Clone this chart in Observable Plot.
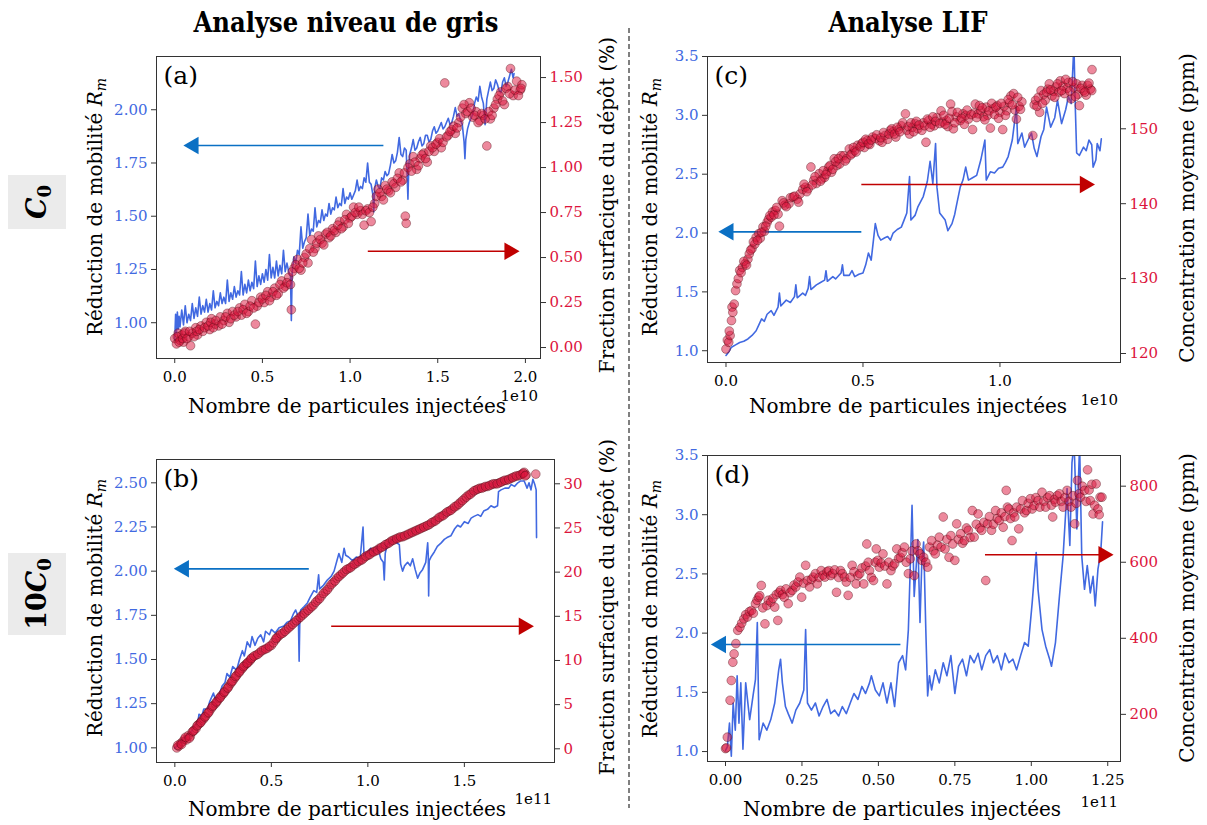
<!DOCTYPE html>
<html><head><meta charset="utf-8">
<script src="https://cdn.jsdelivr.net/npm/d3@7"></script>
<script src="https://cdn.jsdelivr.net/npm/@observablehq/plot@0.6"></script>
<style>
body{margin:0;background:#fff;}
#page{position:relative;width:1207px;height:825px;overflow:hidden;font-family:"DejaVu Serif",serif;background:#fff;}
#page svg{position:absolute;}
</style></head><body><div id="page"></div>
<script>
// ---------- tick values ----------
const aXTicks=[0,0.5,1,1.5,2], aYLTicks=[1,1.25,1.5,1.75,2], aYRTicks=[0,0.25,0.5,0.75,1,1.25,1.5];
const bXTicks=[0,0.5,1,1.5], bYLTicks=[1,1.25,1.5,1.75,2,2.25,2.5], bYRTicks=[0,5,10,15,20,25,30];
const cXTicks=[0,0.5,1], cYLTicks=[1,1.5,2,2.5,3,3.5], cYRTicks=[120,130,140,150];
const dXTicks=[0,0.25,0.5,0.75,1,1.25], dYLTicks=[1,1.5,2,2.5,3,3.5], dYRTicks=[200,400,600,800];

// ---------- (a) grey level, C0 ----------
const aLine=[[0,0.92],[0.005,1.04],[0.01,0.95],[0.015,1.05],[0.02,0.97],[0.025,1.03],[0.03,0.98],[0.04,1.06],[0.05,0.99],[0.06,1.08],[0.07,1.00],[0.08,1.04],[0.09,1.01],[0.10,1.09],[0.11,1.02],[0.12,1.07],[0.13,1.03],[0.14,1.12],[0.15,1.04],[0.16,1.08],[0.17,1.05],[0.18,1.11],[0.19,1.05],[0.20,1.09],[0.21,1.06],[0.22,1.15],[0.23,1.07],[0.24,1.10],[0.25,1.08],[0.26,1.14],[0.27,1.09],[0.28,1.12],[0.29,1.09],[0.30,1.20],[0.31,1.10],[0.32,1.14],[0.33,1.11],[0.34,1.17],[0.35,1.12],[0.36,1.15],[0.37,1.13],[0.38,1.24],[0.39,1.13],[0.40,1.18],[0.41,1.14],[0.42,1.20],[0.43,1.15],[0.44,1.19],[0.45,1.16],[0.46,1.29],[0.47,1.17],[0.48,1.22],[0.49,1.18],[0.50,1.23],[0.51,1.19],[0.52,1.25],[0.53,1.20],[0.54,1.32],[0.55,1.21],[0.56,1.26],[0.57,1.21],[0.58,1.29],[0.59,1.22],[0.60,1.27],[0.61,1.23],[0.62,1.34],[0.63,1.24],[0.64,1.28],[0.65,1.24],[0.66,1.22],[0.665,1.01],[0.67,1.24],[0.68,1.31],[0.69,1.28],[0.70,1.34],[0.71,1.32],[0.72,1.45],[0.73,1.35],[0.74,1.38],[0.75,1.40],[0.76,1.51],[0.77,1.41],[0.78,1.44],[0.79,1.43],[0.80,1.54],[0.81,1.45],[0.82,1.48],[0.83,1.47],[0.84,1.53],[0.85,1.48],[0.86,1.51],[0.87,1.50],[0.88,1.56],[0.89,1.51],[0.90,1.54],[0.91,1.53],[0.92,1.59],[0.93,1.54],[0.94,1.56],[0.95,1.55],[0.96,1.63],[0.97,1.56],[0.98,1.59],[0.99,1.58],[1.00,1.61],[1.01,1.58],[1.02,1.60],[1.03,1.62],[1.04,1.67],[1.05,1.62],[1.06,1.64],[1.07,1.63],[1.08,1.68],[1.09,1.66],[1.10,1.75],[1.11,1.66],[1.12,1.65],[1.13,1.60],[1.135,1.52],[1.14,1.63],[1.15,1.67],[1.16,1.64],[1.17,1.63],[1.18,1.68],[1.19,1.67],[1.20,1.71],[1.21,1.69],[1.22,1.70],[1.23,1.74],[1.24,1.79],[1.25,1.75],[1.26,1.76],[1.27,1.80],[1.28,1.87],[1.29,1.79],[1.30,1.78],[1.31,1.82],[1.32,1.81],[1.325,1.70],[1.33,1.58],[1.335,1.74],[1.34,1.79],[1.35,1.82],[1.36,1.86],[1.37,1.81],[1.38,1.82],[1.39,1.85],[1.40,1.87],[1.41,1.83],[1.42,1.84],[1.43,1.88],[1.44,1.88],[1.45,1.85],[1.46,1.86],[1.47,1.90],[1.48,1.92],[1.49,1.89],[1.50,1.90],[1.51,1.92],[1.52,1.94],[1.53,1.91],[1.54,1.92],[1.55,1.94],[1.56,1.96],[1.57,1.93],[1.58,1.94],[1.59,1.97],[1.60,2.01],[1.61,1.97],[1.62,1.98],[1.63,1.95],[1.64,1.93],[1.65,1.85],[1.655,1.77],[1.66,1.86],[1.67,1.91],[1.68,1.94],[1.69,1.96],[1.70,1.98],[1.71,2.03],[1.72,2.06],[1.73,2.04],[1.74,2.11],[1.75,2.06],[1.76,2.03],[1.77,1.93],[1.78,2.05],[1.79,2.09],[1.80,2.13],[1.81,2.09],[1.82,2.10],[1.83,2.14],[1.84,2.12],[1.85,2.09],[1.86,2.08],[1.87,2.13],[1.88,2.15],[1.89,2.11],[1.90,2.13],[1.91,2.16],[1.92,2.19],[1.93,2.15],[1.935,2.17]];
const aDots=[[0,0.05],[0.01,0.02],[0.02,0.08],[0.03,0.04],[0.04,0.07],[0.05,0.03],[0.06,0.09],[0.08,0.06],[0.09,0.01],[0.10,0.08],[0.12,0.11],[0.13,0.07],[0.15,0.12],[0.16,0.09],[0.18,0.14],[0.20,0.10],[0.21,0.16],[0.23,0.13],[0.25,0.12],[0.26,0.17],[0.28,0.15],[0.30,0.19],[0.31,0.14],[0.33,0.20],[0.35,0.17],[0.37,0.22],[0.38,0.18],[0.40,0.24],[0.42,0.20],[0.44,0.26],[0.46,0.13],[0.47,0.23],[0.49,0.28],[0.51,0.25],[0.53,0.31],[0.55,0.28],[0.57,0.33],[0.59,0.30],[0.61,0.37],[0.63,0.34],[0.65,0.39],[0.665,0.21],[0.68,0.44],[0.70,0.49],[0.72,0.43],[0.74,0.50],[0.76,0.47],[0.78,0.60],[0.80,0.55],[0.82,0.62],[0.84,0.58],[0.86,0.63],[0.88,0.61],[0.90,0.66],[0.92,0.64],[0.94,0.70],[0.96,0.67],[0.98,0.74],[1.00,0.72],[1.02,0.78],[1.04,0.74],[1.06,0.76],[1.08,0.68],[1.10,0.77],[1.12,0.70],[1.14,0.80],[1.16,0.88],[1.18,0.84],[1.20,0.90],[1.22,0.87],[1.24,0.92],[1.26,0.89],[1.28,0.97],[1.30,0.93],[1.315,0.73],[1.32,0.69],[1.34,1.02],[1.36,1.06],[1.38,0.99],[1.40,1.05],[1.42,1.08],[1.44,1.03],[1.46,1.12],[1.48,1.09],[1.50,1.14],[1.52,1.11],[1.54,1.47],[1.56,1.18],[1.58,1.21],[1.60,1.19],[1.62,1.25],[1.64,1.33],[1.66,1.30],[1.68,1.36],[1.70,1.28],[1.72,1.31],[1.74,1.26],[1.76,1.29],[1.78,1.12],[1.80,1.27],[1.82,1.33],[1.84,1.38],[1.86,1.42],[1.88,1.35],[1.90,1.45],[1.915,1.55],[1.93,1.40],[1.95,1.48],[1.97,1.43],[1.98,1.46]];
const aDotsMore=[[0.015,0.06],[0.025,0.03],[0.045,0.05],[0.055,0.08],[0.07,0.05],[0.085,0.09],[0.11,0.06],[0.125,0.09],[0.14,0.10],[0.17,0.11],[0.19,0.12],[0.205,0.14],[0.22,0.11],[0.235,0.15],[0.27,0.13],[0.29,0.17],[0.32,0.16],[0.34,0.18],[0.36,0.20],[0.39,0.21],[0.41,0.19],[0.43,0.23],[0.45,0.22],[0.48,0.25],[0.50,0.27],[0.52,0.29],[0.54,0.26],[0.56,0.31],[0.58,0.29],[0.60,0.35],[0.62,0.33],[0.64,0.36],[0.66,0.35],[0.67,0.42],[0.69,0.46],[0.71,0.44],[0.73,0.47],[0.75,0.52],[0.77,0.55],[0.79,0.53],[0.81,0.58],[0.83,0.60],[0.85,0.57],[0.87,0.64],[0.89,0.62],[0.91,0.65],[0.93,0.68],[0.95,0.66],[0.97,0.71],[0.99,0.69],[1.01,0.73],[1.03,0.75],[1.05,0.78],[1.07,0.74],[1.09,0.76],[1.11,0.75],[1.13,0.78],[1.15,0.84],[1.17,0.86],[1.19,0.82],[1.21,0.88],[1.23,0.86],[1.25,0.91],[1.27,0.94],[1.29,0.92],[1.31,0.97],[1.33,1.00],[1.35,0.98],[1.37,1.03],[1.39,1.01],[1.41,1.07],[1.43,1.05],[1.45,1.09],[1.47,1.11],[1.49,1.13],[1.51,1.16],[1.53,1.14],[1.55,1.17],[1.57,1.20],[1.59,1.23],[1.61,1.22],[1.63,1.28],[1.65,1.35],[1.67,1.31],[1.69,1.33],[1.71,1.29],[1.73,1.25],[1.75,1.30],[1.77,1.27],[1.79,1.31],[1.81,1.29],[1.83,1.35],[1.85,1.40],[1.87,1.37],[1.89,1.44],[1.91,1.41],[1.94,1.43],[1.96,1.40],[1.975,1.44]];
const aArrows={blue:{x1:1.19,x2:0.107,y:1.832}, red:{x1:1.101,x2:1.909,y:0.535}};

// ---------- (b) grey level, 10 C0 ----------
const bLine=[[0,1.00],[0.03,1.03],[0.06,1.07],[0.08,1.08],[0.10,1.12],[0.12,1.15],[0.125,1.19],[0.14,1.18],[0.15,1.22],[0.17,1.22],[0.18,1.26],[0.20,1.31],[0.21,1.27],[0.23,1.30],[0.245,1.35],[0.26,1.37],[0.27,1.42],[0.285,1.40],[0.30,1.46],[0.32,1.44],[0.335,1.50],[0.35,1.55],[0.36,1.52],[0.375,1.60],[0.39,1.57],[0.40,1.63],[0.415,1.58],[0.43,1.62],[0.445,1.64],[0.46,1.60],[0.47,1.66],[0.49,1.64],[0.50,1.67],[0.52,1.65],[0.54,1.68],[0.565,1.69],[0.58,1.71],[0.60,1.72],[0.615,1.76],[0.626,1.78],[0.64,1.74],[0.644,1.49],[0.648,1.75],[0.652,1.78],[0.67,1.80],[0.687,1.82],[0.70,1.85],[0.72,1.89],[0.735,1.88],[0.745,1.98],[0.75,1.90],[0.77,1.92],[0.79,1.95],[0.81,1.97],[0.825,2.00],[0.84,2.06],[0.85,2.10],[0.865,2.05],[0.877,2.13],[0.885,2.09],[0.90,2.08],[0.92,2.06],[0.94,2.08],[0.96,2.07],[0.975,2.25],[0.98,2.09],[1.00,2.11],[1.015,2.13],[1.03,2.11],[1.05,2.14],[1.067,2.07],[1.08,2.05],[1.085,1.95],[1.09,2.10],[1.10,2.15],[1.12,2.17],[1.137,2.19],[1.15,2.16],[1.163,2.15],[1.17,2.04],[1.18,2.00],[1.19,2.03],[1.206,2.05],[1.22,2.03],[1.232,2.07],[1.245,2.01],[1.258,1.96],[1.27,1.99],[1.284,2.01],[1.30,2.05],[1.31,2.16],[1.313,2.09],[1.315,1.86],[1.318,2.06],[1.327,2.08],[1.345,2.11],[1.36,2.14],[1.38,2.16],[1.396,2.18],[1.41,2.19],[1.43,2.20],[1.45,2.24],[1.465,2.26],[1.48,2.25],[1.50,2.28],[1.52,2.27],[1.535,2.30],[1.55,2.31],[1.57,2.32],[1.585,2.31],[1.60,2.34],[1.62,2.35],[1.638,2.37],[1.655,2.36],[1.672,2.37],[1.677,2.45],[1.69,2.46],[1.71,2.47],[1.73,2.47],[1.742,2.49],[1.76,2.48],[1.777,2.50],[1.79,2.51],[1.81,2.51],[1.825,2.47],[1.835,2.50],[1.845,2.46],[1.855,2.52],[1.865,2.49],[1.872,2.46],[1.874,2.19]];
const bDots=[[0.01,0.1],[0.02,0.3],[0.03,0.6],[0.04,0.8],[0.05,1.1],[0.06,1.0],[0.07,1.5],[0.08,1.4],[0.09,1.9],[0.10,2.1],[0.11,2.3],[0.12,2.7],[0.13,2.9],[0.14,3.2],[0.15,3.4],[0.16,3.7],[0.17,4.0],[0.18,4.3],[0.19,4.6],[0.20,4.9],[0.21,5.1],[0.22,5.4],[0.23,5.7],[0.24,6.0],[0.25,6.2],[0.26,6.5],[0.27,6.8],[0.28,7.1],[0.29,7.4],[0.30,7.7],[0.31,8.0],[0.32,8.3],[0.33,8.6],[0.34,8.9],[0.35,9.1],[0.36,9.4],[0.37,9.6],[0.38,9.8],[0.39,10.0],[0.40,10.3],[0.42,10.6],[0.44,10.9],[0.46,11.2],[0.48,11.4],[0.50,11.7],[0.52,12.3],[0.53,12.6],[0.54,12.8],[0.56,13.1],[0.58,13.5],[0.60,13.9],[0.62,14.3],[0.64,14.7],[0.66,15.1],[0.68,15.5],[0.70,15.9],[0.72,16.3],[0.74,16.8],[0.76,17.3],[0.78,17.8],[0.80,18.3],[0.82,18.8],[0.84,19.3],[0.86,19.7],[0.88,20.1],[0.90,20.4],[0.92,20.7],[0.94,21.0],[0.96,21.3],[0.98,21.6],[1.00,21.9],[1.02,22.2],[1.04,22.4],[1.06,22.7],[1.08,22.9],[1.10,23.2],[1.12,23.5],[1.14,23.7],[1.16,23.9],[1.18,24.0],[1.20,24.2],[1.22,24.4],[1.24,24.6],[1.26,24.8],[1.28,25.0],[1.30,25.2],[1.32,25.4],[1.34,25.7],[1.36,26.0],[1.38,26.3],[1.40,26.6],[1.42,26.9],[1.44,27.2],[1.46,27.5],[1.48,27.9],[1.50,28.3],[1.52,28.7],[1.54,29.0],[1.56,29.3],[1.58,29.5],[1.60,29.6],[1.62,29.7],[1.64,29.9],[1.66,30.0],[1.68,30.1],[1.70,30.3],[1.72,30.4],[1.74,30.6],[1.76,30.8],[1.78,30.9],[1.80,31.1],[1.81,31.3],[1.82,31.0],[1.87,31.1]];
const bDotsMore=[[0.015,0.4],[0.035,0.5],[0.055,1.3],[0.075,1.2],[0.095,2.0],[0.115,2.6],[0.135,3.0],[0.155,3.6],[0.175,4.1],[0.195,4.8],[0.215,5.3],[0.235,5.8],[0.255,6.4],[0.275,6.9],[0.295,7.6],[0.315,8.2],[0.335,8.7],[0.355,9.3],[0.375,9.7],[0.395,10.2],[0.41,10.5],[0.43,10.7],[0.45,11.1],[0.47,11.3],[0.49,11.6],[0.51,12.0],[0.525,12.5],[0.55,13.0],[0.57,13.3],[0.59,13.7],[0.61,14.1],[0.63,14.5],[0.65,14.9],[0.67,15.3],[0.69,15.7],[0.71,16.1],[0.73,16.6],[0.75,17.0],[0.77,17.6],[0.79,18.0],[0.81,18.6],[0.83,19.0],[0.85,19.5],[0.87,19.9],[0.89,20.3],[0.91,20.5],[0.93,20.9],[0.95,21.2],[0.97,21.4],[0.99,21.8],[1.01,22.0],[1.03,22.3],[1.05,22.5],[1.07,22.8],[1.09,23.1],[1.11,23.3],[1.13,23.6],[1.15,23.8],[1.17,24.0],[1.19,24.1],[1.21,24.3],[1.23,24.5],[1.25,24.7],[1.27,24.9],[1.29,25.1],[1.31,25.3],[1.33,25.6],[1.35,25.8],[1.37,26.2],[1.39,26.4],[1.41,26.8],[1.43,27.0],[1.45,27.4],[1.47,27.7],[1.49,28.1],[1.51,28.5],[1.53,28.8],[1.55,29.2],[1.57,29.4],[1.59,29.5],[1.61,29.7],[1.63,29.8],[1.65,30.0],[1.67,30.0],[1.69,30.2],[1.71,30.4],[1.73,30.5],[1.75,30.7],[1.77,30.9],[1.79,31.0],[1.805,31.2],[1.815,30.9]];
const bArrows={blue:{x1:0.694,x2:0.047,y:2.013}, red:{x1:0.81,x2:1.808,y:13.88}};

// ---------- (c) LIF, C0 ----------
const cLine=[[0,0.96],[0.01,0.99],[0.02,1.03],[0.035,1.05],[0.05,1.07],[0.065,1.08],[0.08,1.10],[0.095,1.13],[0.11,1.17],[0.12,1.22],[0.13,1.27],[0.14,1.25],[0.15,1.31],[0.165,1.34],[0.175,1.30],[0.19,1.37],[0.195,1.49],[0.20,1.38],[0.22,1.43],[0.235,1.41],[0.25,1.46],[0.255,1.56],[0.26,1.45],[0.28,1.49],[0.29,1.47],[0.30,1.53],[0.305,1.63],[0.31,1.52],[0.33,1.56],[0.345,1.58],[0.36,1.60],[0.365,1.68],[0.37,1.59],[0.39,1.63],[0.40,1.61],[0.42,1.66],[0.425,1.73],[0.43,1.64],[0.45,1.64],[0.46,1.68],[0.47,1.63],[0.485,1.65],[0.50,1.66],[0.51,1.73],[0.52,1.83],[0.53,1.77],[0.545,2.08],[0.555,1.98],[0.565,1.94],[0.58,1.96],[0.59,1.97],[0.60,1.94],[0.61,2.00],[0.625,2.03],[0.64,2.05],[0.65,2.11],[0.66,2.17],[0.67,2.48],[0.675,2.11],[0.69,2.15],[0.70,2.22],[0.72,2.31],[0.735,2.44],[0.745,2.61],[0.755,2.42],[0.765,2.76],[0.77,2.39],[0.78,2.17],[0.79,2.14],[0.80,2.11],[0.81,2.02],[0.825,2.08],[0.835,2.16],[0.84,2.22],[0.855,2.39],[0.865,2.45],[0.875,2.56],[0.885,2.45],[0.90,2.47],[0.915,2.49],[0.93,2.62],[0.945,2.79],[0.95,2.45],[0.965,2.52],[0.98,2.51],[0.995,2.55],[1.01,2.56],[1.02,2.60],[1.03,2.65],[1.045,2.79],[1.06,3.07],[1.065,2.76],[1.08,2.85],[1.09,2.73],[1.10,2.78],[1.115,2.85],[1.125,2.72],[1.135,2.65],[1.15,2.82],[1.16,2.88],[1.17,3.07],[1.185,2.90],[1.20,2.98],[1.21,3.13],[1.225,2.93],[1.24,3.05],[1.25,3.16],[1.26,3.10],[1.27,3.60],[1.275,3.07],[1.28,2.68],[1.29,2.66],[1.305,2.73],[1.315,2.70],[1.325,2.79],[1.335,2.75],[1.34,2.56],[1.35,2.62],[1.355,2.76],[1.365,2.70],[1.37,2.80]];
const cDots=[[0,120.6],[0.005,121.8],[0.01,121.5],[0.015,122.4],[0.02,124.4],[0.022,126.2],[0.03,126.6],[0.035,128.4],[0.04,129.3],[0.05,131.1],[0.06,131.5],[0.07,132.0],[0.08,132.6],[0.085,133.3],[0.095,134.0],[0.105,134.6],[0.11,135.5],[0.12,136.0],[0.125,135.4],[0.135,136.9],[0.14,136.3],[0.15,137.5],[0.155,137.9],[0.165,138.2],[0.17,138.9],[0.18,139.1],[0.19,138.6],[0.195,137.0],[0.205,140.4],[0.215,139.8],[0.23,140.0],[0.235,140.8],[0.245,140.9],[0.26,140.6],[0.27,141.3],[0.28,141.9],[0.29,142.2],[0.30,142.0],[0.31,144.9],[0.32,143.1],[0.33,142.7],[0.34,144.0],[0.35,143.3],[0.36,143.5],[0.37,144.3],[0.375,144.9],[0.385,144.2],[0.395,146.0],[0.405,145.1],[0.415,145.3],[0.42,146.4],[0.43,146.4],[0.44,146.0],[0.45,147.3],[0.46,146.7],[0.47,147.1],[0.48,147.8],[0.495,148.0],[0.505,147.5],[0.515,148.4],[0.525,147.9],[0.535,148.9],[0.545,148.7],[0.56,148.4],[0.57,148.2],[0.58,149.1],[0.59,148.6],[0.60,149.8],[0.61,149.6],[0.62,148.9],[0.63,149.9],[0.64,150.4],[0.655,152.0],[0.66,149.8],[0.67,149.3],[0.68,150.2],[0.69,150.7],[0.70,150.0],[0.715,149.8],[0.72,150.8],[0.73,148.2],[0.74,151.1],[0.75,150.6],[0.76,150.4],[0.77,151.5],[0.785,152.4],[0.79,150.9],[0.805,151.1],[0.81,150.3],[0.82,153.3],[0.83,150.0],[0.84,151.6],[0.855,151.1],[0.865,152.0],[0.875,151.8],[0.885,151.3],[0.90,149.9],[0.905,152.1],[0.91,153.3],[0.92,152.0],[0.93,152.4],[0.94,151.6],[0.95,152.9],[0.955,151.8],[0.965,150.1],[0.975,152.7],[0.99,153.1],[1.00,152.2],[1.01,149.9],[1.015,153.0],[1.025,152.4],[1.035,153.5],[1.04,154.4],[1.05,154.7],[1.055,152.5],[1.06,151.3],[1.07,153.0],[1.08,153.6],[1.12,149.1],[1.125,153.2],[1.13,153.8],[1.14,154.2],[1.145,152.2],[1.15,155.1],[1.16,154.6],[1.165,153.8],[1.175,155.3],[1.18,156.0],[1.19,154.4],[1.195,155.0],[1.205,155.6],[1.215,154.9],[1.22,156.4],[1.23,155.7],[1.235,154.7],[1.245,155.4],[1.25,156.2],[1.26,154.0],[1.27,155.5],[1.28,156.0],[1.285,154.6],[1.29,153.1],[1.30,155.8],[1.305,155.1],[1.315,154.5],[1.32,155.8],[1.33,155.3],[1.335,155.1],[1.336,157.9]];
const cDotsMore=[[0.012,123.0],[0.025,125.5],[0.045,130.0],[0.055,130.8],[0.065,132.3],[0.075,131.8],[0.09,133.8],[0.10,134.9],[0.115,135.1],[0.13,136.2],[0.145,137.0],[0.16,138.4],[0.175,138.5],[0.185,139.5],[0.21,140.1],[0.22,139.6],[0.25,141.0],[0.265,140.2],[0.285,142.6],[0.295,141.6],[0.315,142.5],[0.325,143.6],[0.345,143.0],[0.355,144.4],[0.365,143.9],[0.38,145.1],[0.39,144.6],[0.40,145.6],[0.41,146.0],[0.435,145.7],[0.455,146.5],[0.465,147.5],[0.475,146.9],[0.49,147.6],[0.50,148.2],[0.51,148.6],[0.52,148.0],[0.53,148.5],[0.55,149.2],[0.565,148.8],[0.575,149.5],[0.595,149.3],[0.605,150.0],[0.615,149.3],[0.625,150.2],[0.635,149.6],[0.645,150.8],[0.665,150.3],[0.675,150.8],[0.685,149.6],[0.695,151.0],[0.705,150.5],[0.725,150.4],[0.735,151.3],[0.745,150.2],[0.755,151.6],[0.765,151.0],[0.78,150.7],[0.795,151.8],[0.80,150.6],[0.815,151.4],[0.825,152.3],[0.835,150.8],[0.845,152.2],[0.86,151.4],[0.87,150.6],[0.88,152.5],[0.895,151.9],[0.915,151.5],[0.925,153.1],[0.935,152.8],[0.945,151.2],[0.96,152.4],[0.97,153.4],[0.98,151.9],[0.985,152.9],[0.995,151.4],[1.005,153.4],[1.02,151.8],[1.03,153.9],[1.045,153.2],[1.065,154.2],[1.075,152.6],[1.135,153.0],[1.155,153.4],[1.17,154.9],[1.185,155.2],[1.20,154.2],[1.21,156.0],[1.225,155.1],[1.24,156.6],[1.255,155.0],[1.265,156.3],[1.275,154.3],[1.295,155.4],[1.31,154.9],[1.325,156.1]];
const cArrows={blue:{x1:0.494,x2:0.009,y:2.01}, red:{x1:0.494,x2:1.31,y:142.56}};

// ---------- (d) LIF, 10 C0 ----------
const dLine=[[0,1.01],[0.006,1.04],[0.013,1.24],[0.019,0.96],[0.025,1.41],[0.032,1.18],[0.038,1.64],[0.044,1.24],[0.05,1.58],[0.057,1.02],[0.066,1.58],[0.079,1.27],[0.091,1.49],[0.098,1.61],[0.104,2.09],[0.11,1.10],[0.123,1.24],[0.135,1.18],[0.148,1.27],[0.161,1.41],[0.174,1.69],[0.18,1.78],[0.186,1.58],[0.196,1.38],[0.205,1.32],[0.218,1.24],[0.23,1.35],[0.243,1.41],[0.256,1.52],[0.262,2.03],[0.268,1.41],[0.281,1.35],[0.294,1.41],[0.306,1.30],[0.319,1.38],[0.332,1.44],[0.344,1.32],[0.357,1.35],[0.37,1.30],[0.382,1.38],[0.395,1.32],[0.408,1.41],[0.42,1.49],[0.433,1.44],[0.446,1.55],[0.458,1.49],[0.471,1.58],[0.477,1.64],[0.49,1.52],[0.503,1.47],[0.515,1.58],[0.528,1.41],[0.541,1.58],[0.553,1.38],[0.566,1.75],[0.579,1.81],[0.589,1.69],[0.598,2.03],[0.604,2.54],[0.61,3.08],[0.617,2.31],[0.623,2.54],[0.629,2.79],[0.636,2.09],[0.642,2.60],[0.648,2.77],[0.655,2.03],[0.661,1.47],[0.667,1.64],[0.674,1.52],[0.686,1.69],[0.699,1.58],[0.712,1.75],[0.724,1.64],[0.737,1.81],[0.75,1.49],[0.762,1.72],[0.775,1.78],[0.788,1.64],[0.80,1.81],[0.813,1.75],[0.826,1.83],[0.838,1.69],[0.851,1.81],[0.864,1.86],[0.876,1.75],[0.889,1.81],[0.902,1.69],[0.914,1.83],[0.927,1.75],[0.94,1.78],[0.952,1.69],[0.965,1.81],[0.978,1.92],[0.99,1.89],[1.003,2.26],[1.016,2.68],[1.022,2.37],[1.035,2.03],[1.047,1.89],[1.06,1.78],[1.066,1.72],[1.079,1.92],[1.092,2.31],[1.104,2.65],[1.117,3.22],[1.126,2.74],[1.133,3.44],[1.14,3.6],[1.149,2.88],[1.158,3.6],[1.165,2.65],[1.174,2.37],[1.183,2.57],[1.193,2.34],[1.202,2.48],[1.209,2.23],[1.218,2.54],[1.227,2.68],[1.233,2.94]];
const dDots=[[0,110],[0.003,112],[0.006,140],[0.015,237],[0.019,289],[0.024,337],[0.028,359],[0.034,386],[0.04,421],[0.047,429],[0.053,440],[0.06,451],[0.066,462],[0.072,456],[0.078,470],[0.085,473],[0.091,466],[0.098,491],[0.103,500],[0.108,508],[0.112,512],[0.117,539],[0.122,480],[0.129,438],[0.135,486],[0.14,500],[0.148,495],[0.155,505],[0.161,482],[0.166,515],[0.171,447],[0.175,520],[0.18,526],[0.186,515],[0.192,508],[0.198,530],[0.205,491],[0.211,520],[0.218,526],[0.224,540],[0.23,535],[0.237,548],[0.243,561],[0.249,508],[0.255,545],[0.262,592],[0.268,552],[0.275,535],[0.281,555],[0.287,561],[0.294,570],[0.30,543],[0.306,560],[0.313,578],[0.319,566],[0.325,561],[0.332,575],[0.338,578],[0.344,565],[0.351,570],[0.357,580],[0.363,521],[0.37,560],[0.376,578],[0.382,570],[0.389,561],[0.395,548],[0.401,513],[0.408,560],[0.414,592],[0.42,575],[0.427,543],[0.433,565],[0.439,570],[0.446,585],[0.452,543],[0.458,590],[0.462,648],[0.467,600],[0.471,578],[0.477,560],[0.484,552],[0.49,600],[0.493,635],[0.498,605],[0.503,587],[0.509,598],[0.515,622],[0.521,590],[0.528,543],[0.534,600],[0.541,578],[0.547,590],[0.553,596],[0.56,635],[0.566,610],[0.572,613],[0.578,625],[0.585,640],[0.591,600],[0.598,570],[0.604,609],[0.61,630],[0.617,565],[0.623,648],[0.629,630],[0.636,622],[0.642,605],[0.648,613],[0.655,600],[0.661,587],[0.667,640],[0.674,657],[0.68,630],[0.686,622],[0.693,645],[0.699,666],[0.705,640],[0.712,719],[0.718,635],[0.724,660],[0.731,613],[0.737,670],[0.743,648],[0.75,605],[0.756,701],[0.762,660],[0.769,675],[0.775,650],[0.781,657],[0.788,690],[0.794,684],[0.80,665],[0.807,736],[0.813,666],[0.82,700],[0.826,727],[0.832,690],[0.838,684],[0.845,705],[0.851,552],[0.857,701],[0.863,720],[0.87,684],[0.876,700],[0.883,736],[0.889,715],[0.895,710],[0.902,730],[0.908,692],[0.914,720],[0.918,789],[0.922,745],[0.927,740],[0.932,715],[0.937,657],[0.942,730],[0.946,719],[0.952,745],[0.959,688],[0.965,740],[0.971,762],[0.978,730],[0.984,736],[0.99,755],[0.997,767],[1.003,740],[1.009,749],[1.015,770],[1.022,762],[1.028,745],[1.035,784],[1.041,760],[1.047,745],[1.053,770],[1.06,775],[1.066,750],[1.07,719],[1.075,765],[1.079,758],[1.085,775],[1.092,780],[1.098,760],[1.104,745],[1.11,770],[1.117,789],[1.123,760],[1.13,745],[1.136,775],[1.142,701],[1.147,755],[1.151,815],[1.156,780],[1.161,771],[1.167,800],[1.174,789],[1.179,760],[1.184,843],[1.189,790],[1.193,762],[1.198,805],[1.202,727],[1.207,750],[1.212,806],[1.218,740],[1.222,725],[1.225,771],[1.231,771]];
const dArrows={blue:{x1:0.572,x2:-0.015,y:1.904}, red:{x1:0.8485,x2:1.236,y:619.6}};

// ---------- texts ----------
const titles=["Analyse niveau de gris","Analyse LIF"];
const rowLabels=["","10"];
const xLabel="Nombre de particules injectées";
const yLeftLabel="Réduction de mobilité ";
const yRightGris="Fraction surfacique du dépôt (%)";
const yRightLIF="Concentration moyenne (ppm)";

const PANELS=[
 {tag:"(a)",box:{l:156,t:56,r:540,b:358},line:aLine,dots:aDots.concat(aDotsMore),arrows:aArrows,xDom:[-0.104,2.086],yLDom:[0.832,2.25],yRDom:[-0.061,1.617],xTicks:aXTicks,xFmt:".1f",yLTicks:aYLTicks,yLFmt:".2f",yRTicks:aYRTicks,yRFmt:".2f",exp:"1e10"},
 {tag:"(b)",box:{l:156,t:459,r:554,b:762},line:bLine,dots:bDots.concat(bDotsMore),arrows:bArrows,xDom:[-0.095,1.967],yLDom:[0.917,2.632],yRDom:[-1.55,32.75],xTicks:bXTicks,xFmt:".1f",yLTicks:bYLTicks,yLFmt:".2f",yRTicks:bYRTicks,yRFmt:"d",exp:"1e11"},
 {tag:"(c)",box:{l:707,t:56,r:1120,b:362},line:cLine,dots:cDots.concat(cDotsMore),arrows:cArrows,xDom:[-0.0675,1.44],yLDom:[0.90,3.5],yRDom:[118.8,159.65],xTicks:cXTicks,xFmt:".1f",yLTicks:cYLTicks,yLFmt:".1f",yRTicks:cYRTicks,yRFmt:"d",exp:"1e10"},
 {tag:"(d)",box:{l:707,t:455,r:1120,b:761},line:dLine,dots:dDots,arrows:dArrows,xDom:[-0.0589,1.2917],yLDom:[0.916,3.5],yRDom:[76,880.7],xTicks:dXTicks,xFmt:".2f",yLTicks:dYLTicks,yLFmt:".1f",yRTicks:dYRTicks,yRFmt:"d",exp:"1e11"}
];

const BLUE="#4169E1", CRIMSON="#DC143C", ABLUE="#0b70c4", ARED="#c00000";
const page=d3.select("#page");
const ov=page.append("svg").attr("width",1207).attr("height",825).style("left","0px").style("top","0px")
  .attr("font-family","DejaVu Serif");

// titles
[[titles[0],346],[titles[1],908]].forEach(([t,x])=>{
  ov.append("text").attr("x",x).attr("y",32).attr("text-anchor","middle").attr("font-size",27)
    .attr("font-weight","bold").style("font-stretch","condensed").text(t);
});
// dashed divider
ov.append("line").attr("x1",629).attr("x2",629).attr("y1",28).attr("y2",808)
  .attr("stroke","#000").attr("stroke-width",1).attr("stroke-dasharray","5,3");
// row labels
[[175,54,202,rowLabels[0]],[553,82,594,rowLabels[1]]].forEach(([y,h,cy,pre])=>{
  ov.append("rect").attr("x",8).attr("y",y).attr("width",58).attr("height",h).attr("fill","#ebebeb");
  const t=ov.append("text").attr("transform",`translate(37,${cy}) rotate(-90)`).attr("text-anchor","middle")
    .attr("dy","0.35em").attr("font-size",27).attr("font-weight","bold");
  if(pre) t.append("tspan").text(pre);
  t.append("tspan").attr("font-style","italic").text("C");
  t.append("tspan").attr("font-size",18).attr("dy",5).text("0");
});
function rotLabel(cx,cy,txt,rm){
  const t=ov.append("text").attr("transform",`translate(${cx},${cy}) rotate(-90)`).attr("text-anchor","middle")
    .attr("dy","0.35em").attr("font-size",20);
  t.append("tspan").text(txt);
  if(rm){
    t.append("tspan").attr("font-style","italic").text("R");
    t.append("tspan").attr("font-style","italic").attr("font-size",14).attr("dy",4).text("m");
  }
}
rotLabel(95,207,yLeftLabel,true);
rotLabel(95,608,yLeftLabel,true);
rotLabel(650,207,yLeftLabel,true);
rotLabel(650,609,yLeftLabel,true);
rotLabel(607,205,yRightGris,false);
rotLabel(607,607,yRightGris,false);
rotLabel(1187,208,yRightLIF,false);
rotLabel(1187,608,yRightLIF,false);
[[347,413],[347,816],[908,413],[902,816]].forEach(([x,y])=>{
  ov.append("text").attr("x",x).attr("y",y).attr("text-anchor","middle").attr("font-size",20).text(xLabel);
});
[[538,401,0],[552,804,1],[1118,405,2],[1118,807,3]].forEach(([x,y,i])=>{
  ov.append("text").attr("x",x).attr("y",y).attr("text-anchor","end").attr("font-size",15).text(PANELS[i].exp);
});

// panels
for(const p of PANELS){
  const ml=100,mr=100,mt=20,mb=70;
  const W=p.box.r-p.box.l+ml+mr, H=p.box.b-p.box.t+mt+mb;
  const base={width:W,height:H,marginLeft:ml,marginRight:mr,marginTop:mt,marginBottom:mb,
    style:{background:"transparent",fontFamily:"DejaVu Serif",fontSize:"15px",overflow:"visible",maxWidth:"none",color:"#000"}};
  const lineData=p.line.map(([x,y])=>({x,y}));
  const dotData=p.dots.map(([x,y])=>({x,y}));
  const L=Plot.plot({...base,
    x:{domain:p.xDom}, y:{domain:p.yLDom},
    marks:[
      Plot.line(lineData,{x:"x",y:"y",stroke:BLUE,strokeWidth:1.6,clip:true}),
      Plot.link([p.arrows.blue],{x1:"x1",x2:"x2",y1:"y",y2:"y",stroke:ABLUE,strokeWidth:1.6}),
      Plot.dot([p.arrows.blue],{x:"x2",y:"y",symbol:"triangle",r:6.5,fill:ABLUE,rotate:-90}),
      Plot.frame({stroke:"#333"}),
      Plot.axisX({ticks:p.xTicks,tickFormat:d3.format(p.xFmt),tickSize:5,tickPadding:8,stroke:"#333",color:"#000",label:null,fontSize:15}),
      Plot.axisY({anchor:"left",ticks:p.yLTicks,tickFormat:d3.format(p.yLFmt),tickSize:5,tickPadding:4,stroke:"#333",color:BLUE,label:null,fontSize:15}),
      Plot.text([p.tag],{text:d=>d,frameAnchor:"top-left",dx:7,dy:10,lineAnchor:"top",textAnchor:"start",fontSize:25,fill:"#000"})
    ]});
  const R=Plot.plot({...base,
    x:{domain:p.xDom,axis:null}, y:{domain:p.yRDom},
    marks:[
      Plot.dot(dotData,{x:"x",y:"y",r:4.4,fill:CRIMSON,fillOpacity:0.5,stroke:"#4a0810",strokeOpacity:0.55,strokeWidth:0.7}),
      Plot.link([p.arrows.red],{x1:"x1",x2:"x2",y1:"y",y2:"y",stroke:ARED,strokeWidth:1.6}),
      Plot.dot([p.arrows.red],{x:"x2",y:"y",symbol:"triangle",r:6.5,fill:ARED,rotate:90}),
      Plot.axisY({anchor:"right",ticks:p.yRTicks,tickFormat:d3.format(p.yRFmt),tickSize:5,tickPadding:4,stroke:"#333",color:CRIMSON,label:null,fontSize:15})
    ]});
  for(const s of [L,R]){
    s.style.position="absolute";
    s.style.left=(p.box.l-ml)+"px";
    s.style.top=(p.box.t-mt)+"px";
    page.node().appendChild(s);
  }
}
</script>
</body></html>
